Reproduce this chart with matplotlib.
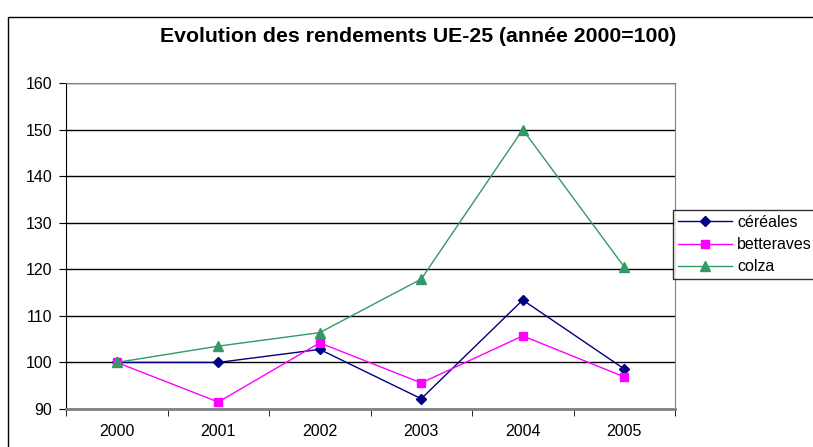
import matplotlib.pyplot as plt
from matplotlib.patches import Rectangle

plt.rcParams['font.family'] = ['Liberation Sans', 'DejaVu Sans']

years = ['2000', '2001', '2002', '2003', '2004', '2005']
cereales = [100, 100, 102.8, 92.2, 113.4, 98.6]
betteraves = [100, 91.5, 104.2, 95.6, 105.7, 96.9]
colza = [100, 103.5, 106.4, 117.9, 150.0, 120.5]

fig = plt.figure(figsize=(8.13, 4.47), dpi=100)
ax = fig.add_axes([66 / 813, 38 / 447, 609 / 813, 326 / 447])

x = list(range(len(years)))
ax.plot(x, cereales, color='#000080', marker='D', markersize=5, lw=1, label='céréales')
ax.plot(x, betteraves, color='#FF00FF', marker='s', markersize=6, lw=1, label='betteraves')
ax.plot(x, colza, color='#339966', marker='^', markersize=7, lw=1, label='colza')

ax.set_xlim(-0.5, len(years) - 0.5)
ax.set_ylim(90, 160)
ax.set_yticks(range(90, 161, 10))
ax.set_xticks(x)
ax.set_xticklabels(years)
ax.set_xticks([i - 0.5 for i in range(len(years) + 1)], minor=True)
ax.tick_params(axis='x', which='major', length=0, pad=11, labelsize=11.5)
ax.tick_params(axis='x', which='minor', length=5, direction='out', color='black')
ax.tick_params(axis='y', length=5, direction='out', labelsize=11.5, color='black', pad=5)
ax.grid(axis='y', color='black', lw=1)
ax.set_axisbelow(True)

ax.spines['left'].set_color('black')
ax.spines['bottom'].set_color('#808080')
ax.spines['bottom'].set_linewidth(2)
ax.spines['top'].set_color('#808080')
ax.spines['right'].set_color('#808080')

fig.text(418 / 813, 1 - 36 / 447, 'Evolution des rendements UE-25 (année 2000=100)',
         ha='center', va='center', fontsize=15.3, fontweight='bold')

# legend sticks out past the right edge, like the original export
leg = ax.legend(loc='upper left', bbox_to_anchor=(0.997, 0.61), fontsize=11.5,
                frameon=True, fancybox=False, edgecolor='black', borderpad=0.3,
                handlelength=3.4, handletextpad=0.3, labelspacing=0.45, borderaxespad=0)
leg.get_frame().set_linewidth(1)

fig.patches.append(Rectangle((8 / 813, -0.1), 1.2, 1 - 17 / 447 + 0.1,
                             transform=fig.transFigure, fill=False,
                             edgecolor='black', lw=1))

fig.savefig('out.png', dpi=100)
